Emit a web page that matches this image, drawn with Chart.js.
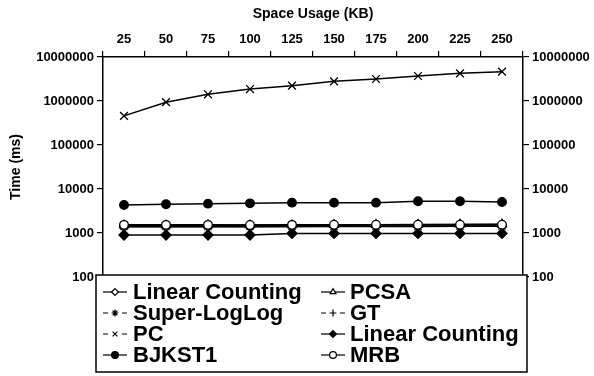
<!DOCTYPE html>
<html>
<head>
<meta charset="utf-8">
<script src="https://cdn.jsdelivr.net/npm/chart.js@4.4.1/dist/chart.umd.min.js"></script>
<style>
  body { margin: 0; background: #fff; }
  #wrap { width: 594px; height: 376px; }
</style>
</head>
<body>
<div id="wrap"><canvas id="chart" width="594" height="376"></canvas></div>
<script>
const categories = ['25', '50', '75', '100', '125', '150', '175', '200', '225', '250'];
const yTicks = [100, 1000, 10000, 100000, 1000000, 10000000];

const linearCounting = [1380, 1380, 1390, 1390, 1400, 1400, 1410, 1410, 1420, 1420];
const superLogLog = [1400, 1400, 1400, 1410, 1410, 1420, 1420, 1430, 1430, 1440];
const pc = [460000, 940000, 1420000, 1870000, 2230000, 2800000, 3160000, 3700000, 4260000, 4640000];
const bjkst1 = [4330, 4490, 4640, 4720, 4890, 4890, 4890, 5250, 5250, 5070];
const pcsa = [1500, 1500, 1510, 1510, 1520, 1530, 1540, 1560, 1570, 1580];
const gt = [1480, 1480, 1490, 1500, 1510, 1520, 1530, 1550, 1560, 1570];
const linearCounting2 = [900, 900, 900, 900, 980, 980, 980, 980, 980, 980];
const mrb = [1530, 1530, 1530, 1520, 1530, 1540, 1540, 1540, 1550, 1550];

const FONT = '"Liberation Sans", Arial, Helvetica, sans-serif';

function series(label, data, style, radius, fill, order) {
  return {
    label: label,
    data: data,
    borderColor: '#000',
    borderWidth: 1.5,
    pointStyle: style,
    pointRadius: radius,
    pointBorderWidth: 1.3,
    pointBorderColor: '#000',
    pointBackgroundColor: fill,
    tension: 0,
    order: order,
  };
}

// column-major legend order
const datasets = [
  series('Linear Counting', linearCounting, 'rectRot', 4.5, '#fff', 6),
  series('Super-LogLog', superLogLog, 'star', 5, '#000', 5),
  series('PC', pc, 'crossRot', 5.5, '#000', 4),
  series('BJKST1', bjkst1, 'circle', 4.3, '#000', 3),
  series('PCSA', pcsa, 'triangle', 5, '#fff', 2),
  series('GT', gt, 'cross', 5, '#000', 1),
  series('Linear Counting', linearCounting2, 'rectRot', 5, '#000', 7),
  series('MRB', mrb, 'circle', 4.3, '#fff', 0),
];

const legendBox = {
  id: 'legendBox',
  afterDraw(chart) {
    const ctx = chart.ctx;
    const x0 = 96, y0 = 275, w = 431, h = 97;
    ctx.save();
    ctx.fillStyle = '#fff';
    ctx.fillRect(x0, y0, w, h);
    ctx.strokeStyle = '#000';
    ctx.lineWidth = 1.5;
    ctx.strokeRect(x0, y0, w, h);
    const rows = [292, 313, 334, 355];
    const cols = [{ mx: 115, tx: 133 }, { mx: 333, tx: 350 }];
    ctx.font = 'bold 22px ' + FONT;
    ctx.textBaseline = 'middle';
    ctx.fillStyle = '#000';
    chart.data.datasets.forEach((ds, i) => {
      const col = cols[Math.floor(i / 4)];
      const y = rows[i % 4];
      ctx.strokeStyle = '#000';
      ctx.lineWidth = 1.2;
      const open = ['star', 'cross', 'crossRot'].includes(ds.pointStyle);
      ctx.beginPath();
      if (open) {
        ctx.moveTo(col.mx - 12, y); ctx.lineTo(col.mx - 7, y);
        ctx.moveTo(col.mx + 7, y); ctx.lineTo(col.mx + 12, y);
      } else {
        ctx.moveTo(col.mx - 12, y); ctx.lineTo(col.mx + 12, y);
      }
      ctx.stroke();
      ctx.fillStyle = ds.pointBackgroundColor;
      Chart.helpers.drawPoint(ctx, {
        pointStyle: ds.pointStyle,
        radius: 3.4,
        borderWidth: 1,
        rotation: 0,
      }, col.mx, y);
      ctx.fillStyle = '#000';
      ctx.fillText(ds.label, col.tx, y + 1);
    });
    ctx.restore();
  }
};

const tickFont = { family: FONT, size: 13, weight: 'bold' };
const titleFont = { family: FONT, size: 14, weight: 'bold' };

function logAxis(position, width, title) {
  return {
    type: 'logarithmic',
    position: position,
    min: 100,
    max: 10000000,
    afterBuildTicks: (axis) => { axis.ticks = yTicks.map((v) => ({ value: v })); },
    afterFit: (axis) => { axis.width = width; },
    grid: { drawOnChartArea: false, tickLength: 6, color: '#000', lineWidth: 1.2 },
    border: { color: '#000', width: 1.5 },
    ticks: {
      color: '#000',
      font: tickFont,
      padding: 3,
      callback: (v) => String(v),
    },
    title: {
      display: !!title,
      text: title || '',
      color: '#000',
      font: titleFont,
      padding: { top: 0, bottom: 4 },
    },
  };
}

new Chart(document.getElementById('chart'), {
  type: 'line',
  data: { labels: categories, datasets: datasets },
  options: {
    responsive: false,
    animation: false,
    layout: { padding: { left: 8, right: 0, top: 0, bottom: 99 } },
    plugins: {
      legend: { display: false },
      tooltip: { enabled: false },
    },
    scales: {
      x: {
        position: 'top',
        offset: true,
        afterFit: (axis) => { axis.height = 57; },
        grid: { offset: true, drawOnChartArea: false, tickLength: 6, color: '#000', lineWidth: 1.2 },
        border: { color: '#000', width: 1.5 },
        ticks: { color: '#000', font: tickFont, padding: 4, maxRotation: 0 },
        title: {
          display: true,
          text: 'Space Usage (KB)',
          color: '#000',
          font: titleFont,
          padding: { top: 6, bottom: 6 },
        },
      },
      y: logAxis('left', 95, 'Time (ms)'),
      y2: logAxis('right', 71, null),
    },
  },
  plugins: [legendBox],
});
</script>
</body>
</html>
